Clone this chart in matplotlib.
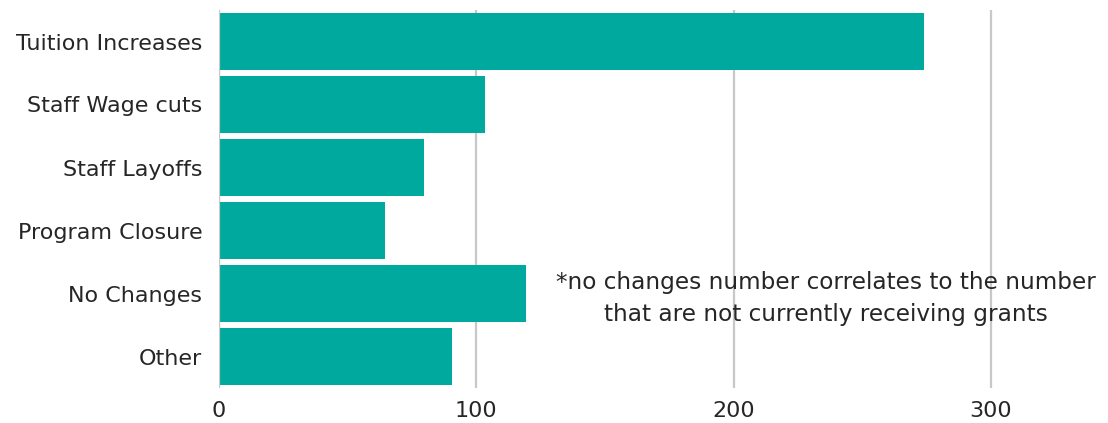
import matplotlib
matplotlib.use("Agg")
import matplotlib.pyplot as plt

categories = ["Tuition Increases", "Staff Wage cuts", "Staff Layoffs",
              "Program Closure", "No Changes", "Other"]
values = [274, 103.5, 79.5, 64.5, 119.5, 90.5]
xticks = [0, 100, 200, 300]
note = "*no changes number correlates to the number\nthat are not currently receiving grants"

plt.rcParams['font.family'] = ['DejaVu Sans']
fig = plt.figure(figsize=(11.08, 4.23), dpi=100)
ax = fig.add_axes([219/1108, 1-388/423, (1100-219)/1108, (388-10)/423])

ypos = list(range(len(categories)))
ax.barh(ypos, values, height=0.9, color="#00A99D", zorder=3)
ax.set_ylim(len(categories)-0.5, -0.5)
ax.set_xlim(0, 881/2.573)
ax.set_yticks(ypos)
ax.set_yticklabels(categories, fontsize=16, color="#262626")
ax.set_xticks(xticks)
ax.set_xticklabels([str(t) for t in xticks], fontsize=16, color="#262626")
ax.tick_params(axis='both', length=0)
ax.tick_params(axis='y', pad=12)
ax.tick_params(axis='x', pad=9)
for s in ax.spines.values():
    s.set_visible(False)
ax.grid(axis='x', color="#c8c8c8", linewidth=1.6, zorder=0)
ax.axvline(0, color="#c8c8c8", linewidth=1.6, zorder=4)
ax.text(236, 4.08, note, ha='center', va='center', fontsize=16.7,
        color="#262626", linespacing=1.55, zorder=5)

fig.savefig("out.png", dpi=100)
